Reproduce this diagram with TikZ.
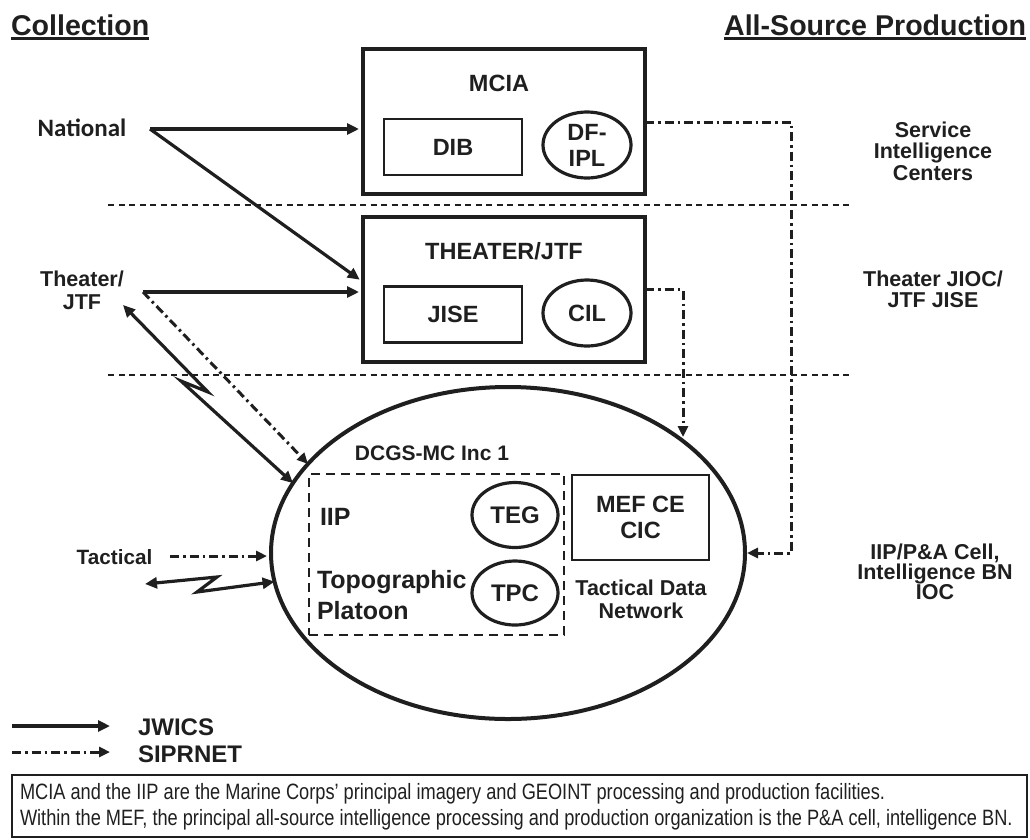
\documentclass[tikz,border=0pt]{standalone}
\usepackage{fontspec}
\setmainfont{Liberation Sans}
\newfontfamily\calfont{Carlito}
\newfontfamily\narrowfont[FakeStretch=0.82]{Liberation Sans}
\usetikzlibrary{shapes.geometric,arrows.meta,calc}
\definecolor{ink}{HTML}{1F1F1F}
\newcommand\myfs[2]{\fontsize{#1}{#2}\selectfont}
\begin{document}
\begin{tikzpicture}[x=1pt,y=-1pt,
  every node/.style={inner sep=0pt, outer sep=0pt, text=ink},
  bigbox/.style={draw=ink, line width=4pt, minimum width=282pt, minimum height=145pt},
  subbox/.style={draw=ink, line width=2.8pt, minimum width=138pt, minimum height=56pt, font=\bfseries\myfs{23.5}{26}},
  oval/.style={draw=ink, ellipse, line width=3.2pt, minimum width=88pt, minimum height=66pt, align=center, font=\bfseries\myfs{23.5}{26}},
  lbl/.style={font=\bfseries\myfs{23.5}{26}, align=center},
  side/.style={font=\bfseries\myfs{21.5}{21.5}, align=center},
  sepline/.style={draw=ink, line width=2.6pt, dash pattern=on 6pt off 4.5pt},
  jw/.style={draw=ink, line width=3.2pt, -{Triangle[length=12pt,width=11pt]}},
  jwboth/.style={draw=ink, line width=3.2pt, {Triangle[length=12pt,width=11pt]}-{Triangle[length=12pt,width=11pt]}},
  sip/.style={draw=ink, line width=3pt, dash pattern=on 9pt off 4pt on 2.5pt off 4pt, -{Triangle[length=11pt,width=10pt]}},
  head/.style={font=\bfseries\myfs{28.6}{28.6}}
]
\useasboundingbox (0,0) rectangle (1030,839);

% headings
\node[head, anchor=base west] (coll) at (11,35) {Collection};
\draw[ink, line width=2.2pt] ([yshift=-3.5pt]coll.base west) -- ([yshift=-3.5pt]coll.base east);
\node[head, anchor=base east] (asp) at (1026,35) {All-Source Production};
\draw[ink, line width=2.2pt] ([yshift=-3.5pt]asp.base west) -- ([yshift=-3.5pt]asp.base east);

% separators
\draw[sepline] (108,205) -- (853,205);
\draw[sepline] (108,375) -- (853,375);

% MCIA
\node[bigbox] (mcia) at (504,121.5) {};
\node[lbl] (mcialbl) at (499,83) {MCIA};
\node[subbox] (dib) at (453,147) {DIB};
\node[oval] (dfipl) at (587,145) {DF-\\IPL};

% THEATER/JTF
\node[bigbox] (theater) at (504,289.5) {};
\node[lbl] (theaterlbl) at (504,251) {THEATER/JTF};
\node[subbox] (jise) at (453,314.5) {JISE};
\node[oval] (cil) at (587,313) {CIL};

% DCGS ellipse
\node[draw=ink, ellipse, line width=4pt, minimum width=474pt, minimum height=332pt] (dcgs) at (508,553) {};
\node[font=\bfseries\myfs{21}{21}] (dcgslbl) at (432,453) {DCGS-MC Inc 1};
\node[draw=ink, line width=2.6pt, dash pattern=on 9pt off 6pt, minimum width=255pt, minimum height=161pt] (iipbox) at (436.5,554.5) {};
\node[font=\bfseries\myfs{25}{31}, anchor=west] (iip) at (320,517) {IIP};
\node[font=\bfseries\myfs{25}{31}, anchor=west, align=left] (topo) at (317,595) {Topographic\\Platoon};
\node[oval, minimum width=86pt, minimum height=65pt, font=\bfseries\myfs{24}{26}] (teg) at (515,515) {TEG};
\node[oval, minimum width=86pt, minimum height=64pt, font=\bfseries\myfs{24}{26}] (tpc) at (515,593) {TPC};
\node[draw=ink, line width=2.8pt, minimum width=137pt, minimum height=85pt, align=center, font=\bfseries\myfs{23.5}{26}] (mef) at (640.5,517.5) {MEF CE\\CIC};
\node[font=\bfseries\myfs{21.5}{23}, align=center] (tdn) at (641,599) {Tactical Data\\Network};

% left labels
\node[font=\calfont\bfseries\myfs{25}{25}] (national) at (82,128) {National};
\node[font=\bfseries\myfs{21.5}{23}, align=center] (theaterjtf) at (82,290) {Theater/\\JTF};
\node[font=\bfseries\myfs{20.7}{21}] (tactical) at (114.5,557) {Tactical};

% right labels
\node[side] (sic) at (933,151) {Service\\Intelligence\\Centers};
\node[side] (jioc) at (933,289.5) {Theater JIOC/\\JTF JISE};
\node[side, font=\bfseries\myfs{21.5}{20}] (iipbn) at (935,572) {IIP/P\&A Cell,\\Intelligence BN\\IOC};

% connectors
\coordinate (natsrc) at (150,129);
\draw[jw, shorten >=4pt] (natsrc) -- (natsrc -| mcia.west);
\draw[jw, shorten >=4pt] (natsrc) -- ($(theater.west)+(0,-7.5)$);

\coordinate (thsrc) at (143,292);
\draw[jw, shorten >=4pt] (thsrc) -- (thsrc -| theater.west);
\draw[sip] (thsrc) -- (dcgs.156);

\coordinate (thl) at (123,305);
\coordinate (thz1) at (208,392);
\coordinate (thz2) at (181,381);
\draw[jwboth] (thl) -- (thz1) -- (thz2) -- (dcgs.162);

\coordinate (tacsrc) at (170,556);
\draw[sip, shorten >=4pt] (tacsrc) -- (tacsrc -| dcgs.west);

\coordinate (tl) at (145,584);
\coordinate (tz1) at (217,577);
\coordinate (tz2) at (197,592);
\draw[jwboth] (tl) -- (tz1) -- (tz2) -- (dcgs.187);

\coordinate (m1) at (791,122);
\draw[sip, shorten >=2pt] (mcia.east |- m1) -- (m1) -- (m1 |- dcgs.east) -- (dcgs.east);

\coordinate (cilend) at (683,437);
\draw[sip] (theater.east) -- (theater.east -| cilend) -- (cilend);

% legend
\coordinate (lg1a) at (12,726);
\coordinate (lg1b) at (110,726);
\draw[jw] (lg1a) -- (lg1b);
\node[font=\bfseries\myfs{24}{24}, anchor=west] (jwics) at (138,727) {JWICS};
\coordinate (lg2a) at (12,752);
\coordinate (lg2b) at (110,752);
\draw[sip] (lg2a) -- (lg2b);
\node[font=\bfseries\myfs{24}{24}, anchor=west] (siprnet) at (138,754) {SIPRNET};

% note box
\node[draw=ink, line width=1.8pt, minimum width=1015pt, minimum height=62pt] (notebox) at (519.5,806) {};
\node[anchor=west, align=left, font=\narrowfont\myfs{22.2}{26}] (note) at (20,807) {MCIA and the IIP are the Marine Corps’ principal imagery and GEOINT processing and production facilities.\\Within the MEF, the principal all-source intelligence processing and production organization is the P\&A cell, intelligence BN.};
\end{tikzpicture}
\end{document}
